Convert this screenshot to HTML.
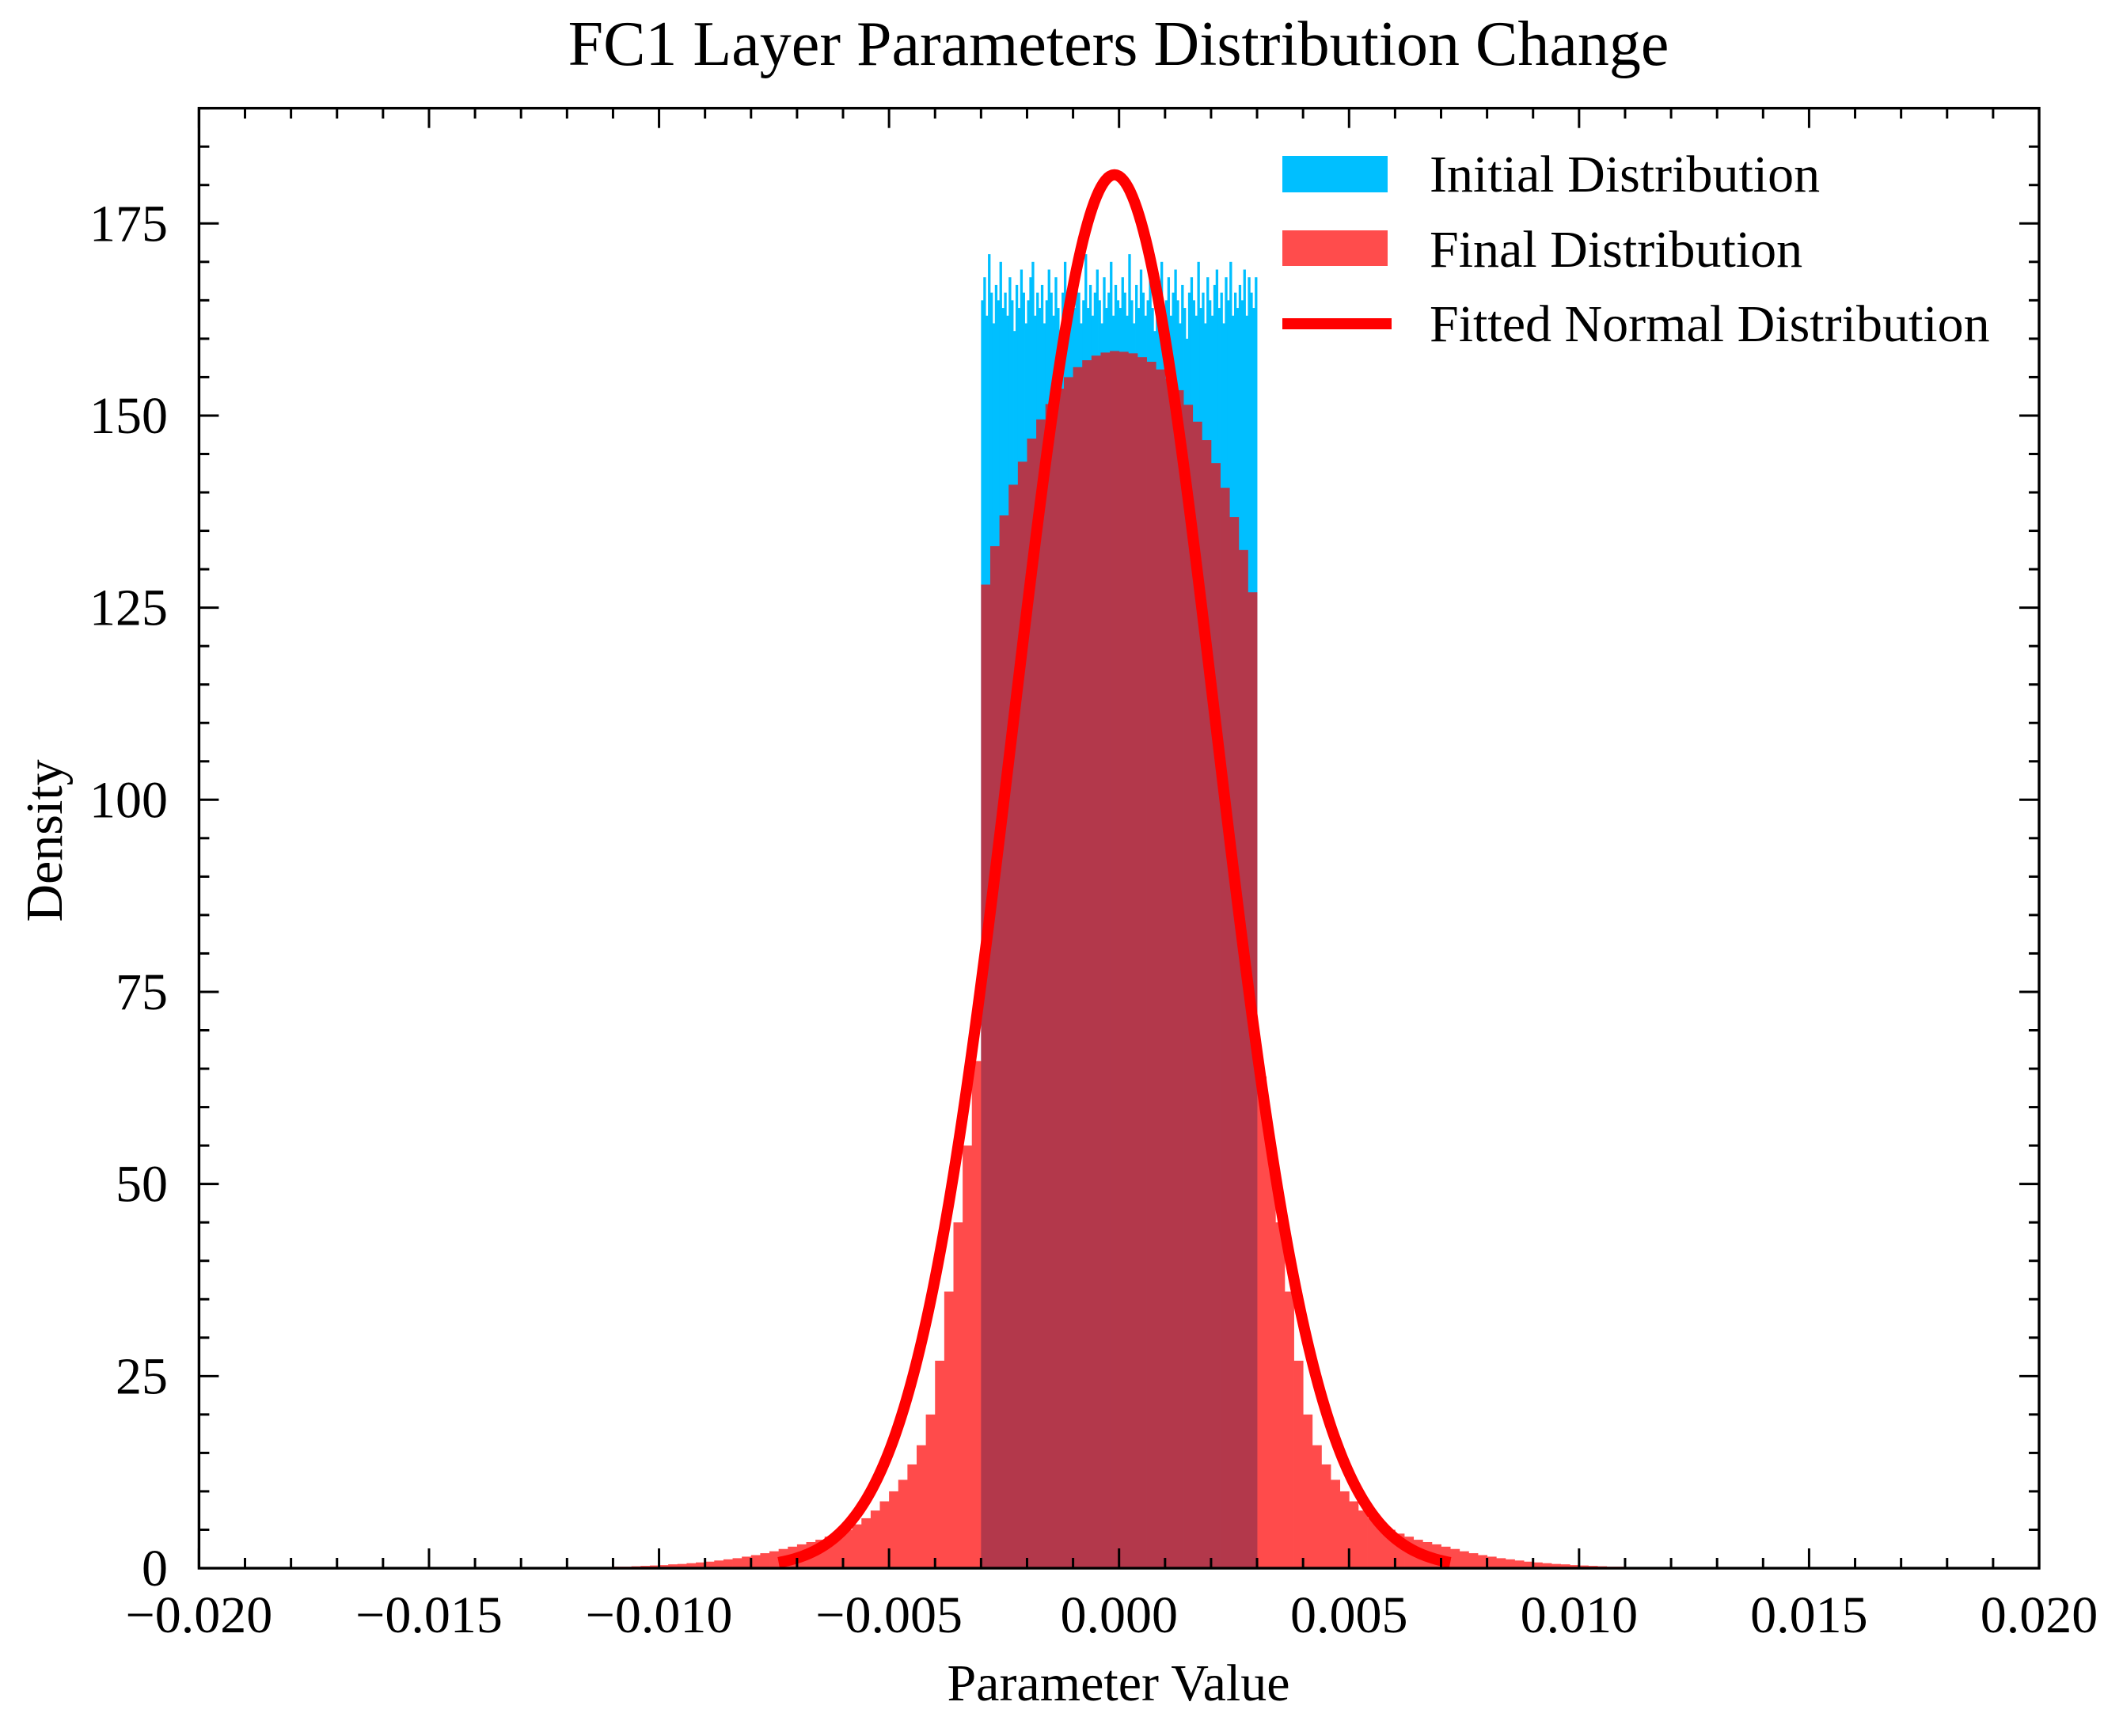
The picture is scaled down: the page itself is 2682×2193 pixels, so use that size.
<!DOCTYPE html>
<html><head><meta charset="utf-8">
<style>
html,body{margin:0;padding:0;background:#fff;}
svg{display:block;font-family:"Liberation Serif","DejaVu Serif",serif;}
</style></head>
<body>
<svg id="chart" width="2682" height="2193" viewBox="0 0 2682 2193" xmlns="http://www.w3.org/2000/svg">
<rect width="2682" height="2193" fill="#fff"/>
<text x="1413" y="82" font-size="80" text-anchor="middle">FC1 Layer Parameters Distribution Change</text>
<text x="1413" y="2148" font-size="66" text-anchor="middle">Parameter Value</text>
<text x="0" y="0" font-size="66" text-anchor="middle" transform="translate(78,1062) rotate(-90)">Density</text>
<g id="plot"></g>
<g id="axes"></g>
<g id="legend">
  <rect x="1620" y="197" width="133" height="46" fill="#00BFFF"/>
  <text x="1806" y="242" font-size="66">Initial Distribution</text>
  <rect x="1620" y="291" width="133" height="45" fill="#FF0000" fill-opacity="0.7"/>
  <text x="1806" y="337" font-size="66">Final Distribution</text>
  <line x1="1620" y1="409" x2="1758" y2="409" stroke="#FF0000" stroke-width="14"/>
  <text x="1806" y="431" font-size="66">Fitted Normal Distribution</text>
</g>
</svg>
<script>
// ---- data ----
const xTicks = [-0.020,-0.015,-0.010,-0.005,0.000,0.005,0.010,0.015,0.020];
const xTickLabels = ["\u22120.020","\u22120.015","\u22120.010","\u22120.005","0.000","0.005","0.010","0.015","0.020"];
const yTicks = [0,25,50,75,100,125,150,175];
const yTickLabels = ["0","25","50","75","100","125","150","175"];
const initialStart = -0.003;
const initialBinWidth = 0.00005;
const initialValues = [
165,168,163,171,166,162,167,165,170,164,166,163,168,165,161,167,164,169,166,162,
165,168,170,163,166,164,167,162,165,169,166,163,168,164,161,166,170,165,163,167,
164,168,166,162,165,171,164,167,163,166,169,165,162,168,164,166,170,163,167,165,
164,168,166,163,171,165,162,167,164,169,166,163,165,168,164,161,166,167,170,164,
165,168,163,166,169,165,162,167,164,160,166,168,165,163,170,164,166,162,168,165,
163,167,169,164,166,162,168,165,170,163,166,164,167,165,169,163,168,166,164,168
];
const finalStart = -0.012;
const finalBinWidth = 0.0002;
const finalValues = [
0.1,0.1,0.1,0.15,0.15,0.2,0.2,0.25,0.3,0.35,
0.4,0.5,0.55,0.65,0.75,0.85,1.0,1.15,1.3,1.5,
1.7,1.95,2.2,2.5,2.8,3.1,3.4,3.7,4.1,4.5,
5.0,5.7,6.5,7.5,8.7,10,11.5,13.5,16,20,
27,36,45,55,66,
128,133,137,141,144,147,149.5,151.5,153.5,155,156.3,157.2,157.8,158.2,158.4,
158.3,158.1,157.6,157,156,154.8,153.3,151.4,149.2,146.8,143.8,140.6,136.8,132.5,127,
64,54,45,36,27,
20,16,13.5,11.5,10,8.7,7.5,6.5,5.7,5.0,
4.5,4.1,3.7,3.4,3.1,2.8,2.5,2.2,1.95,1.7,
1.5,1.3,1.15,1.0,0.85,0.75,0.65,0.55,0.5,0.4,
0.35,0.3,0.25,0.2,0.2,0.15,0.15,0.1,0.1,0.1
];
const fitMu = -0.0001;
const fitSigma = 0.0022;
const fitRange = [-0.0074, 0.0072];

// ---- scales ----
const X0 = 251.4, X1 = 2576, Y0 = 1981, YPX = 9.707;
const xMin = -0.02, xMax = 0.02;
function sx(v){ return X0 + (v - xMin) / (xMax - xMin) * (X1 - X0); }
function sy(v){ return Y0 - v * YPX; }
const NS = "http://www.w3.org/2000/svg";
function mk(tag, attrs, parent){
  const e = document.createElementNS(NS, tag);
  for (const k in attrs) e.setAttribute(k, attrs[k]);
  parent.appendChild(e); return e;
}
const plotG = document.getElementById('plot');
const axesG = document.getElementById('axes');

// initial histogram
const gI = mk('g', {}, plotG);


initialValues.forEach((v, i) => {
  const a = sx(initialStart + i * initialBinWidth), b = sx(initialStart + (i + 1) * initialBinWidth);
  const r = mk('rect', {x: a, y: sy(v), width: b - a + 0.4, height: sy(0) - sy(v), fill: '#00BFFF'}, gI);
  
  
});
// final histogram
const gF = mk('g', {opacity: 0.7}, plotG);


finalValues.forEach((v, i) => {
  const a = sx(finalStart + i * finalBinWidth), b = sx(finalStart + (i + 1) * finalBinWidth);
  const r = mk('rect', {x: a, y: sy(v), width: b - a + 0.4, height: sy(0) - sy(v), fill: '#FF0000'}, gF);
  
  
});
// fitted curve
let d = '';
const N = 300;
for (let i = 0; i <= N; i++) {
  const x = fitRange[0] + (fitRange[1] - fitRange[0]) * i / N;
  const y = Math.exp(-0.5 * ((x - fitMu) / fitSigma) ** 2) / (fitSigma * Math.sqrt(2 * Math.PI));
  d += (i ? 'L' : 'M') + sx(x).toFixed(2) + ',' + sy(y).toFixed(2);
}
const curve = mk('path', {d: d, fill: 'none', stroke: '#FF0000', 'stroke-width': 14, 'stroke-linejoin': 'round'}, plotG);



// frame
const yTop = sy(190);
const frame = mk('rect', {x: X0, y: yTop, width: X1 - X0, height: Y0 - yTop, fill: 'none', stroke: '#000', 'stroke-width': 3.4}, axesG);


// x ticks
for (let k = -20; k <= 20; k++) {
  const v = k * 0.001, px = sx(v), major = (k % 5 === 0), L = major ? 25 : 13;
  mk('line', {x1: px, y1: Y0, x2: px, y2: Y0 - L, stroke: '#000', 'stroke-width': 3}, axesG);
  mk('line', {x1: px, y1: yTop, x2: px, y2: yTop + L, stroke: '#000', 'stroke-width': 3}, axesG);
}
xTicks.forEach((v, i) => {
  const t = mk('text', {x: sx(v), y: 2062, 'font-size': 66, 'text-anchor': 'middle'}, axesG);
  t.textContent = xTickLabels[i];
  
  
});
// y ticks
for (let k = 0; k <= 190; k += 5) {
  const py = sy(k), major = (k % 25 === 0), L = major ? 25 : 13;
  mk('line', {x1: X0, y1: py, x2: X0 + L, y2: py, stroke: '#000', 'stroke-width': 3}, axesG);
  mk('line', {x1: X1, y1: py, x2: X1 - L, y2: py, stroke: '#000', 'stroke-width': 3}, axesG);
}
yTicks.forEach((v, i) => {
  const t = mk('text', {x: 212, y: sy(v) + 22, 'font-size': 66, 'text-anchor': 'end'}, axesG);
  t.textContent = yTickLabels[i];
  
  
});
</script>
</body></html>
